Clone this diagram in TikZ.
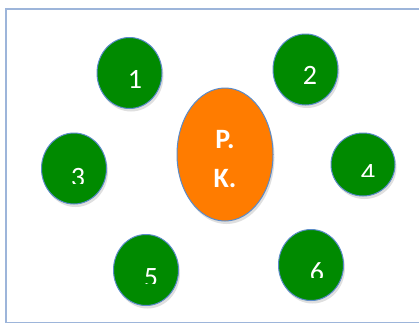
\documentclass[tikz,border=0pt]{standalone}
\usepackage{fontspec}
\setmainfont{Carlito}
\usetikzlibrary{shapes.geometric,shadows}

\definecolor{discgreen}{HTML}{008A00}
\definecolor{pkorange}{HTML}{FF7C00}
\definecolor{edgeblue}{HTML}{5B8BC9}
\definecolor{frameblue}{HTML}{9DB5DA}

\begin{document}
\begin{tikzpicture}[
    x=1pt, y=-1pt,
    disc/.style={ellipse, draw=edgeblue, line width=1pt, fill=discgreen, inner sep=0pt,
        minimum width=65, minimum height=71,
        drop shadow={shadow xshift=1.5pt, shadow yshift=-3pt, opacity=0.25}},
    numtext/.style={text=white, font=\fontsize{28}{30}\selectfont, anchor=base, inner sep=0pt},
    num/.style n args={4}{path picture={
        \node[numtext] at ([shift={(#2,#3)}]path picture bounding box.center) {#1};
        \fill[discgreen] ([shift={(-60,#4)}]path picture bounding box.center)
            rectangle ([shift={(60,60)}]path picture bounding box.center);}}
]

\clip (0,0) rectangle (419,324);
\fill[white] (0,0) rectangle (419,324);

% outer frame
\draw[frameblue, line width=1.3pt] (6,9) rectangle (430,322.5);

% centre
\node[disc, fill=pkorange, minimum width=96, minimum height=133,
      label={[text=white, font=\fontsize{28}{39}\selectfont\bfseries, align=center, yshift=-4.5pt]center:P.\\K.}]
      (pk) at (225,154.5) {};

% ring of numbered discs
\node[disc, num={1}{5.5}{15}{40}] (d1) at (129.5,73) {};
\node[disc, num={2}{4.5}{14.5}{40}] (d2) at (305.5,69.5) {};
\node[disc, minimum height=71, num={3}{4}{17.5}{15.5}] (d3) at (74,168.5) {};
\node[disc, minimum width=64, minimum height=63, num={4}{5}{17.5}{12.5}] (d4) at (363,164.5) {};
\node[disc, num={5}{5}{16}{14}] (d5) at (146,270) {};
\node[disc, num={6}{6}{16}{13}] (d6) at (311,265) {};

\end{tikzpicture}
\end{document}
